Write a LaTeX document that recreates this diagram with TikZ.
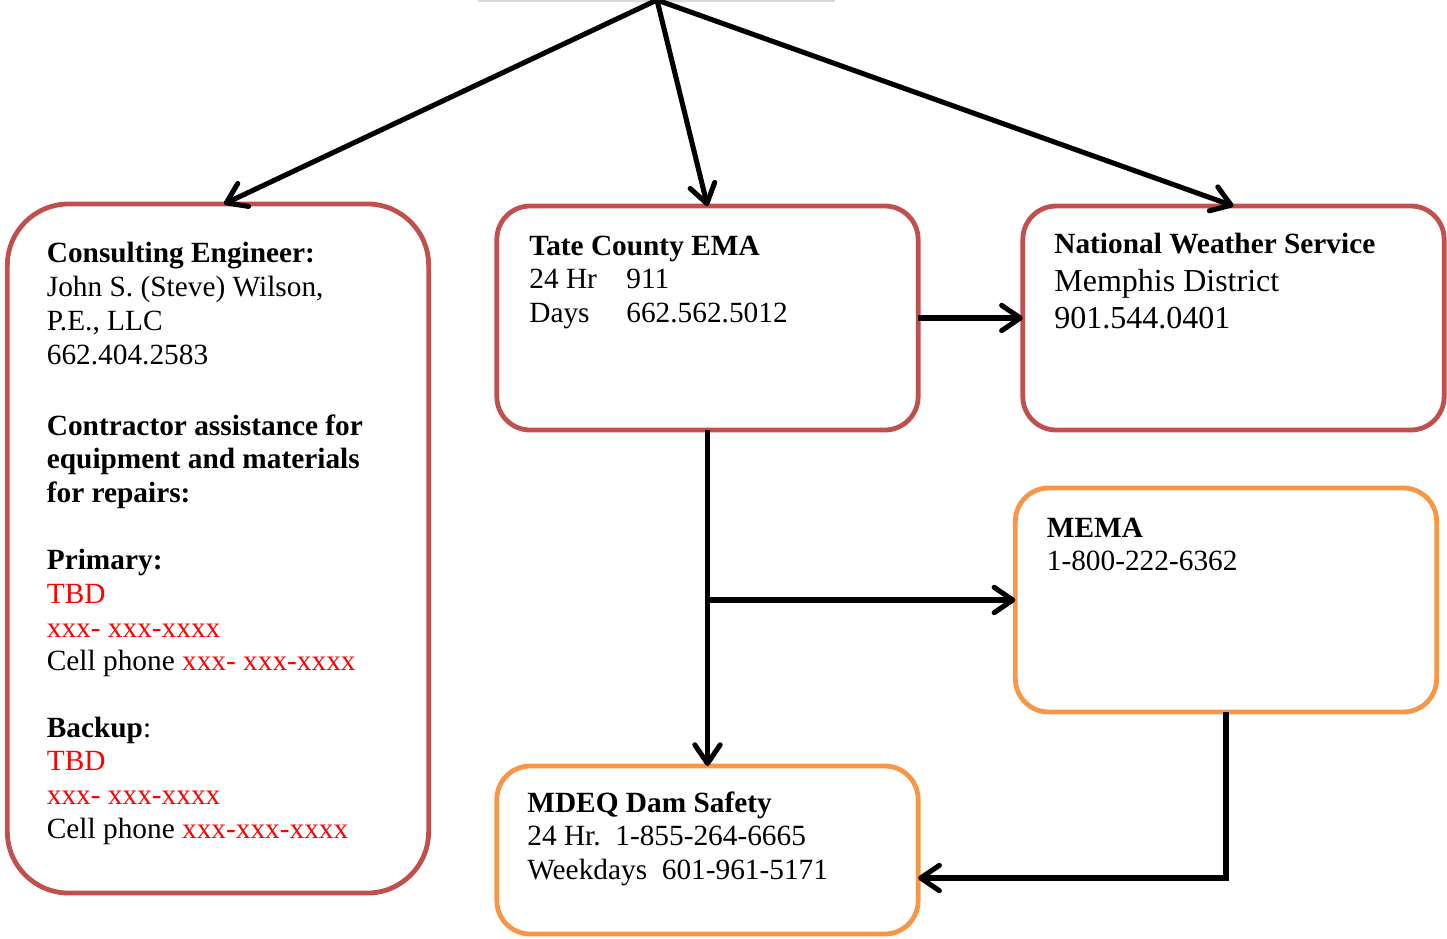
\documentclass[tikz,border=0pt]{standalone}
\usepackage{fontspec}
\setmainfont{Liberation Serif}
\usepackage{tikz}
\usetikzlibrary{arrows.meta,calc}
\definecolor{boxred}{RGB}{192,80,77}
\definecolor{boxorange}{RGB}{247,150,70}
\definecolor{numred}{RGB}{255,0,0}
\tikzset{%
  >={Straight Barb[round,length=7pt,width=9.5pt]},
  % Specifications for style of nodes:
            base/.style = {rectangle, rounded corners=12.5pt, line width=1.8pt,
                           minimum width=158pt, minimum height=84pt,
                           inner sep=0pt, outer sep=0pt},
  redbox/.style = {base, draw=boxred},
     orangebox/.style = {base, draw=boxorange},
         txt/.style = {anchor=base west, inner sep=0pt,
                       font=\fontsize{11}{12.65}\selectfont},
}
\newcommand{\tbd}[1]{\textcolor{numred}{#1}}
\newcommand{\col}[1]{\makebox[36.4pt][l]{#1}}
\newcommand{\lines}[1]{\begin{tabular}[t]{@{}l@{}}#1\end{tabular}}

\begin{document}
\begin{tikzpicture}[x=0.375pt, y=-0.375pt, line width=1.9pt]
  \useasboundingbox (0,0) rectangle (1447,938);
  % Specification of boxes (position, etc.)
  \node (consult) [redbox, rounded corners=23pt, minimum height=258.4pt] at (218,548.5) {};
  \node (tate)    [redbox]    at (707.5,318) {};
  \node (nws)     [redbox]    at (1233.5,318) {};
  \node (mema)    [orangebox] at (1226,600) {};
  \node (mdeq)    [orangebox, minimum height=63pt] at (707.5,850) {};
  % texts inside the boxes
  \node (consulttxt) [txt] at ($(consult.north west)+(37,59)$)
    {\lines{\textbf{Consulting Engineer:}\\
     John S. (Steve) Wilson,\\
     P.E., LLC\\
     662.404.2583\\[14pt]
     \textbf{Contractor assistance for}\\
     \textbf{equipment and materials}\\
     \textbf{for repairs:}\\[12.5pt]
     \textbf{Primary:}\\
     \tbd{TBD}\\
     \tbd{xxx- xxx-xxxx}\\
     Cell phone \tbd{xxx- xxx-xxxx}\\[12.2pt]
     \textbf{Backup}:\\
     \tbd{TBD}\\
     \tbd{xxx- xxx-xxxx}\\
     Cell phone \tbd{xxx-xxx-xxxx}}};
  \node (tatetxt) [txt] at ($(tate.north west)+(30,49)$)
    {\lines{\textbf{Tate County EMA}\\
     \col{24 Hr}911\\
     \col{Days}662.562.5012}};
  \node (nwstxt) [txt] at ($(nws.north west)+(29,47)$)
    {\lines{\textbf{National Weather Service}\\[1.6pt]
     {\fontsize{12}{13.8}\selectfont Memphis District}\\[1.25pt]
     {\fontsize{12}{13.8}\selectfont 901.544.0401}}};
  \node (ematxt) [txt] at ($(mema.north west)+(29,49)$)
    {\lines{\textbf{MEMA}\\
     1-800-222-6362}};
  \node (mdeqtxt) [txt] at ($(mdeq.north west)+(28,46)$)
    {\lines{\textbf{MDEQ Dam Safety}\\
     24 Hr.\ \ 1-855-264-6665\\
     Weekdays\ \ 601-961-5171}};
  % edge of the box above, cut by the page
  \coordinate (topleft)  at (478,1);
  \coordinate (topright) at (835,1);
  \coordinate (top)      at (657,0);
  \draw[line width=0.8pt, black!15] (topleft) -- (topright);
  % Specification of lines between boxes
\draw[->]   (top) -- ($(consult.north)+(6,0)$);
\draw[->]   (top) -- (tate.north);
\draw[->]   (top) -- (nws.north);
\draw[->]   (tate) -- (nws);
\draw[->]   (tate) -- (mdeq);
\draw[->]   (tate.south |- mema.west) -- (mema.west);
\draw[->]   (mema.south) |- ($(mdeq.east)+(0,28)$);
\end{tikzpicture}
\end{document}
